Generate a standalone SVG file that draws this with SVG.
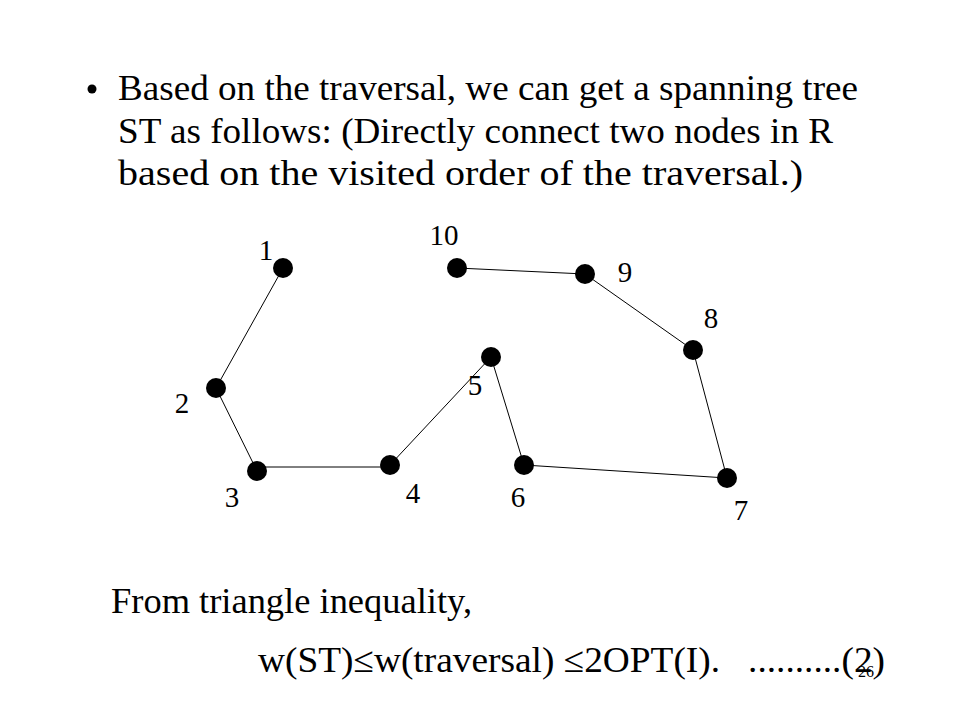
<svg xmlns="http://www.w3.org/2000/svg" width="960" height="720" viewBox="0 0 960 720">
<style>
  .t { font-family: "Liberation Serif", "Times New Roman", Times, serif; fill: #000; }
  .big { font-size: 36px; }
  .lbl { font-size: 29px; text-anchor: middle; }
  .edge { stroke: #000; stroke-width: 1; fill: none; }
  .node { fill: #000; }
</style>
<rect width="960" height="720" fill="#fff"/>
<g id="text">
  <circle cx="92" cy="89" r="4.5" fill="#000"/>
  <text class="t big" x="118" y="100" textLength="740" lengthAdjust="spacingAndGlyphs">Based on the traversal, we can get a spanning tree</text>
  <text class="t big" x="118" y="143" textLength="715" lengthAdjust="spacingAndGlyphs">ST as follows: (Directly connect two nodes in R</text>
  <text class="t big" x="118" y="185" textLength="685" lengthAdjust="spacingAndGlyphs">based on the visited order of the traversal.)</text>
  <text class="t big" x="111" y="613" textLength="361" lengthAdjust="spacingAndGlyphs">From triangle inequality,</text>
  <text class="t big" x="258" y="672" textLength="627" lengthAdjust="spacingAndGlyphs" xml:space="preserve">w(ST)≤w(traversal) ≤2OPT(I).   ..........(2)</text>
  <text class="t" x="858" y="677" font-size="16">26</text>
</g>
<g id="connectors">
  <line class="edge" x1="283" y1="268" x2="216" y2="388"/>
  <line class="edge" x1="216" y1="388" x2="257" y2="471"/>
  <line class="edge" x1="257" y1="467" x2="390" y2="467"/>
  <line class="edge" x1="390" y1="465" x2="491" y2="357"/>
  <line class="edge" x1="491" y1="357" x2="524" y2="465"/>
  <line class="edge" x1="524" y1="465" x2="727" y2="478"/>
  <line class="edge" x1="727" y1="478" x2="693" y2="350"/>
  <line class="edge" x1="693" y1="350" x2="585" y2="274"/>
  <line class="edge" x1="585" y1="274" x2="457" y2="268"/>
</g>
<g id="n1"><circle class="node" cx="283" cy="268" r="10"/><text class="t lbl" x="266" y="260">1</text></g>
<g id="n2"><circle class="node" cx="216" cy="388" r="10"/><text class="t lbl" x="182" y="413">2</text></g>
<g id="n3"><circle class="node" cx="257" cy="471" r="10"/><text class="t lbl" x="232" y="507">3</text></g>
<g id="n4"><circle class="node" cx="390" cy="465" r="10"/><text class="t lbl" x="413" y="503">4</text></g>
<g id="n5"><circle class="node" cx="491" cy="357" r="10"/><text class="t lbl" x="475" y="395">5</text></g>
<g id="n6"><circle class="node" cx="524" cy="465" r="10"/><text class="t lbl" x="518" y="507">6</text></g>
<g id="n7"><circle class="node" cx="727" cy="478" r="10"/><text class="t lbl" x="741" y="520">7</text></g>
<g id="n8"><circle class="node" cx="693" cy="350" r="10"/><text class="t lbl" x="711" y="328">8</text></g>
<g id="n9"><circle class="node" cx="585" cy="274" r="10"/><text class="t lbl" x="625" y="282">9</text></g>
<g id="n10"><circle class="node" cx="457" cy="268" r="10"/><text class="t lbl" x="444" y="245">10</text></g>
</svg>
